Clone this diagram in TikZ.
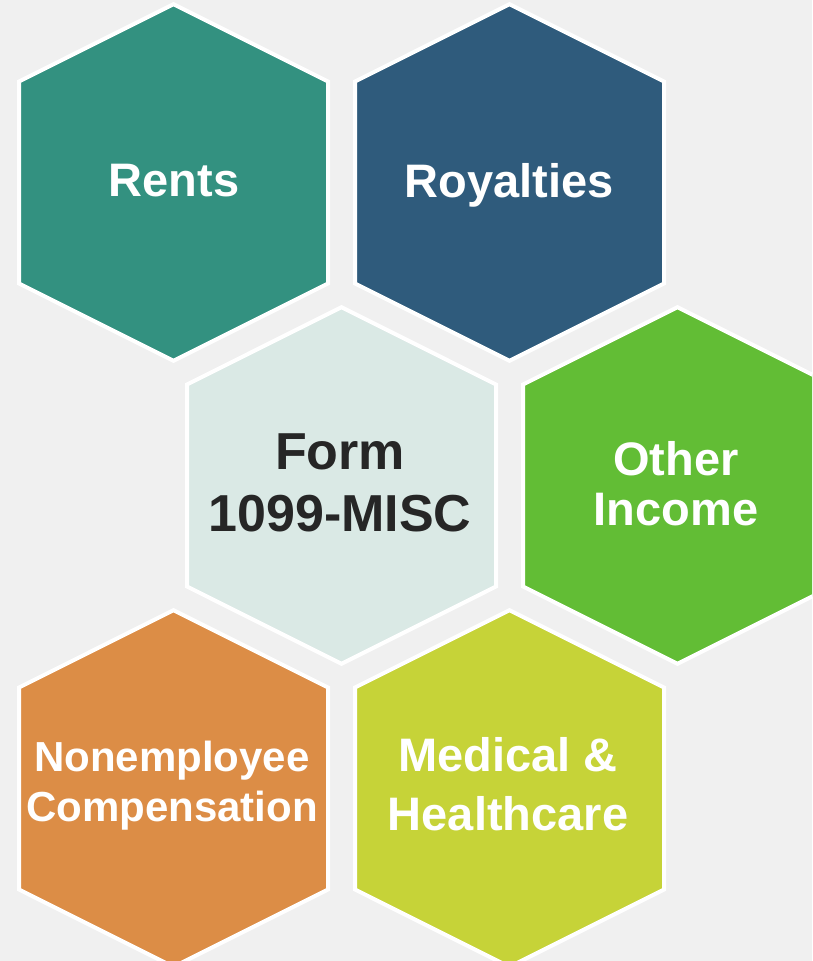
\documentclass[tikz,border=0pt]{standalone}
\usepackage{fontspec}
\setmainfont{Liberation Sans}
\definecolor{bgc}{HTML}{F0F0F0}
\definecolor{teal}{HTML}{339180}
\definecolor{navy}{HTML}{2F5B7C}
\definecolor{pale}{HTML}{DAE9E5}
\definecolor{lgreen}{HTML}{62BD35}
\definecolor{orng}{HTML}{DC8D46}
\definecolor{lime}{HTML}{C6D338}
\definecolor{dark}{HTML}{262626}
\newcommand\hexcell[4]{%
  \begin{scope}[shift={(#1,#2)}]
    \draw[hexcell, fill=#3] (0,-178.3) -- (154.5,-101) -- (154.5,101) -- (0,178.3) -- (-154.5,101) -- (-154.5,-101) -- cycle;
    \coordinate (#4) at (0,0);
  \end{scope}}
\begin{document}
\begin{tikzpicture}[x=1pt,y=-1pt,
  hexcell/.style={draw=white, line width=4pt, line join=miter},
  lbl/.style={text=white, font=\bfseries\fontsize{47}{50}\selectfont, align=center, inner sep=0pt}]
\useasboundingbox (0,0) rectangle (812,961);
\clip (0,0) rectangle (812,961);
\fill[bgc] (0,0) rectangle (812,961);
\hexcell{173.5}{182.5}{teal}{h1}
\hexcell{509.5}{182.5}{navy}{h2}
\hexcell{341.5}{485.5}{pale}{h3}
\hexcell{677.5}{485.5}{lgreen}{h4}
\hexcell{173.5}{788.5}{orng}{h5}
\hexcell{509.5}{788.5}{lime}{h6}
\node[lbl] (rents) at (174,181) {Rents};
\node[lbl] (royalties) at (509,185.8) {Royalties};
\node[lbl, text=dark, font=\bfseries\fontsize{52}{62}\selectfont] (form) at (340,483) {Form\\1099-MISC};
\node[lbl, font=\bfseries\fontsize{47}{50}\selectfont] (other) at (676,484) {Other\\Income};
\node[lbl, font=\bfseries\fontsize{42}{50}\selectfont] (nonemp) at (172,785.5) {Nonemployee\\Compensation};
\node[lbl, font=\bfseries\fontsize{47}{59}\selectfont] (medical) at (508,784.5) {Medical \&\\Healthcare};
\end{tikzpicture}
\end{document}
